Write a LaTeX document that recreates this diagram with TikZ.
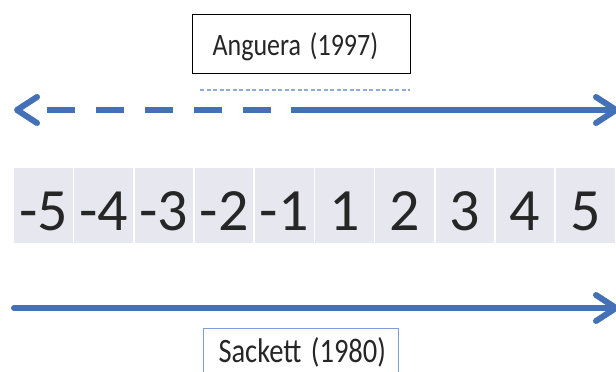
\documentclass[tikz,border=0pt]{standalone}
\usepackage{fontspec}
\setmainfont{Carlito}
\usetikzlibrary{arrows.meta, positioning}
\definecolor{scaleblue}{HTML}{4470B8}
\definecolor{cellgray}{HTML}{E7E7EF}
\definecolor{paleblue}{HTML}{8FAADC}
\definecolor{inkgray}{HTML}{262626}
\newcommand{\tallbox}[1]{\scalebox{1}[1.2]{#1}}
\tikzset{
  arr/.style={line width=6pt, draw=scaleblue,
              >={Straight Barb[length=20pt, width=26pt, round]}},
  numcell/.style={rectangle, fill=cellgray, minimum width=58.5pt, minimum height=75pt,
                  inner sep=0pt, text height=49pt, text depth=0pt,
                  font=\fontsize{60}{72}\selectfont, text=inkgray},
  refbox/.style={rectangle, draw=#1, fill=white, inner ysep=0pt, align=left,
                 text height=30pt, text=inkgray},
  refbox/.default=black,
}
\begin{document}
\begin{tikzpicture}[x=1pt, y=-1pt]
  \useasboundingbox (0,0) rectangle (616,372);

  \node[refbox, line width=1.1pt, anchor=north west, minimum height=59pt,
        inner xsep=20pt, text width=178pt, text depth=7pt,
        font=\fontsize{26}{30}\selectfont] (anguera) at (192,14) {\tallbox{Anguera (1997)}};
  \coordinate (ustart) at (200,90);
  \coordinate (uend) at (410,90);
  \draw[paleblue, line width=1.2pt, dash pattern=on 4pt off 2.5pt] (ustart) -- (uend);

  \coordinate (ltip) at (14,110);
  \coordinate (lhead) at (22,110);
  \coordinate (dstart) at (47,110);
  \coordinate (solid) at (291,110);
  \coordinate (rtip) at (619,110);
  \draw[arr, <-] (ltip) -- (lhead);
  \draw[arr, dash pattern=on 28pt off 21pt] (dstart) -- (solid);
  \draw[arr, ->] (solid) -- (rtip);

  \foreach \n [count=\i] in {-5,-4,-3,-2,-1,1,2,3,4,5}
    \node[numcell] (c\i) at ({43.5+60.2*(\i-1)},205.5) {\n};

  \coordinate (bstart) at (14,308);
  \coordinate (btip) at (619,308);
  \draw[arr, line cap=round, ->] (bstart) -- (btip);

  \node[refbox=paleblue!80!scaleblue, line width=1pt, anchor=north west, minimum height=60pt,
        inner xsep=15pt, text width=165pt, text depth=22pt,
        font=\fontsize{28.5}{32}\selectfont] (sackett) at (203,328) {\tallbox{Sackett (1980)}};
\end{tikzpicture}
\end{document}
